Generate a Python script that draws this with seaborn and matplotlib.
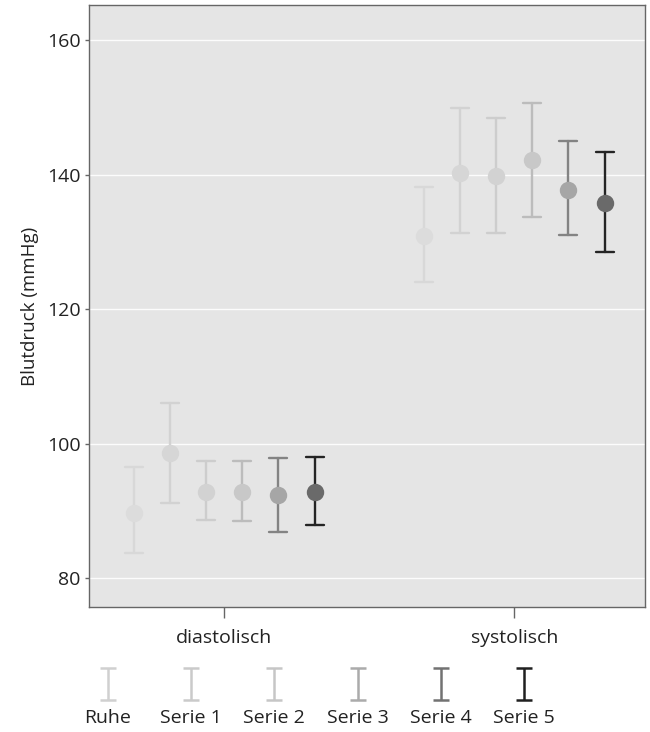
import numpy as np
import pandas as pd
import matplotlib
matplotlib.use("Agg")
import matplotlib.pyplot as plt
import seaborn as sns

categories = ["diastolisch", "systolisch"]
series = ["Ruhe", "Serie 1", "Serie 2", "Serie 3", "Serie 4", "Serie 5"]
dia_mean = [89.7, 98.6, 92.8, 92.8, 92.3, 92.8]
dia_low = [83.7, 91.2, 88.6, 88.5, 86.8, 87.9]
dia_high = [96.5, 106.0, 97.4, 97.4, 97.8, 98.0]
sys_mean = [130.9, 140.2, 139.8, 142.2, 137.7, 135.8]
sys_low = [124.0, 131.3, 131.3, 133.7, 131.0, 128.5]
sys_high = [138.1, 149.9, 148.4, 150.6, 145.0, 143.3]
yticks = [80, 100, 120, 140, 160]

bar_colors = ["#d8d8d8", "#d2d2d2", "#cdcdcd", "#bcbcbc", "#838383", "#242424"]
marker_colors = ["#dcdcdc", "#d6d6d6", "#d2d2d2", "#c8c8c8", "#a6a6a6", "#6a6a6a"]
legend_colors = ["#d0d0d0", "#cacaca", "#c6c6c6", "#ababab", "#727272", "#202020"]

rows = []
for cat, lo, me, hi in [("diastolisch", dia_low, dia_mean, dia_high),
                        ("systolisch", sys_low, sys_mean, sys_high)]:
    for s, a, b, c in zip(series, lo, me, hi):
        for v in (a, b, c):
            rows.append({"cat": cat, "series": s, "value": v})
df = pd.DataFrame(rows)

sns.set_style("darkgrid", {"axes.facecolor": "#e5e5e5", "grid.color": "white",
                           "axes.edgecolor": "#666666"})
plt.rcParams["font.family"] = ["Open Sans", "DejaVu Sans"]

fig = plt.figure(figsize=(6.5, 7.32), dpi=100)
ax = fig.add_axes([89 / 650, 1 - 607 / 732, (645 - 89) / 650, (607 - 5) / 732])

sns.pointplot(data=df, x="cat", y="value", hue="series", order=categories,
              hue_order=series, palette=bar_colors, estimator="median",
              errorbar=lambda v: (v.min(), v.max()), dodge=0.624,
              linestyle="none", markers="o", markersize=10.5, capsize=0.062,
              err_kws={"linewidth": 1.7}, legend=False, ax=ax)

mi = 0
for ln in ax.lines:
    if ln.get_marker() not in (None, "None", "", " "):
        c = marker_colors[mi]
        ln.set_markerfacecolor(c)
        ln.set_markeredgecolor(c)
        ln.set_zorder(3)
        mi += 1

ax.set_xlim(-0.466, 1.451)
ax.set_ylim(75.7, 165.2)
ax.set_yticks(yticks)
ax.set_xlabel("")
ax.set_ylabel("Blutdruck (mmHg)", fontsize=13.5, color="#222222", labelpad=6)
ax.tick_params(axis="both", labelsize=14, colors="#222222")
ax.tick_params(axis="x", length=8, width=1, color="#666666", pad=8, bottom=True)
ax.tick_params(axis="y", length=3, width=1, color="#666666", pad=3, left=True)
ax.grid(axis="x", visible=False)
ax.grid(axis="y", color="white", linewidth=1.0, alpha=0.9)
for sp in ax.spines.values():
    sp.set_visible(True)
    sp.set_color("#666666")
    sp.set_linewidth(1)

# legend row
lax = fig.add_axes([0, 0, 1, 72 / 732])
lax.set_xlim(-108 / 83.2, (650 - 108) / 83.2)
lax.set_ylim(-3, 1.5)
lax.axis("off")
for i, (s, c) in enumerate(zip(series, legend_colors)):
    lax.errorbar([i], [0], yerr=[1], fmt="none", ecolor=c, elinewidth=1.8,
                 capsize=6, capthick=1.8)
    lax.text(i, -2.1, s, ha="center", va="center", fontsize=14, color="#222222")

fig.savefig("out.png", dpi=100, facecolor="white")
